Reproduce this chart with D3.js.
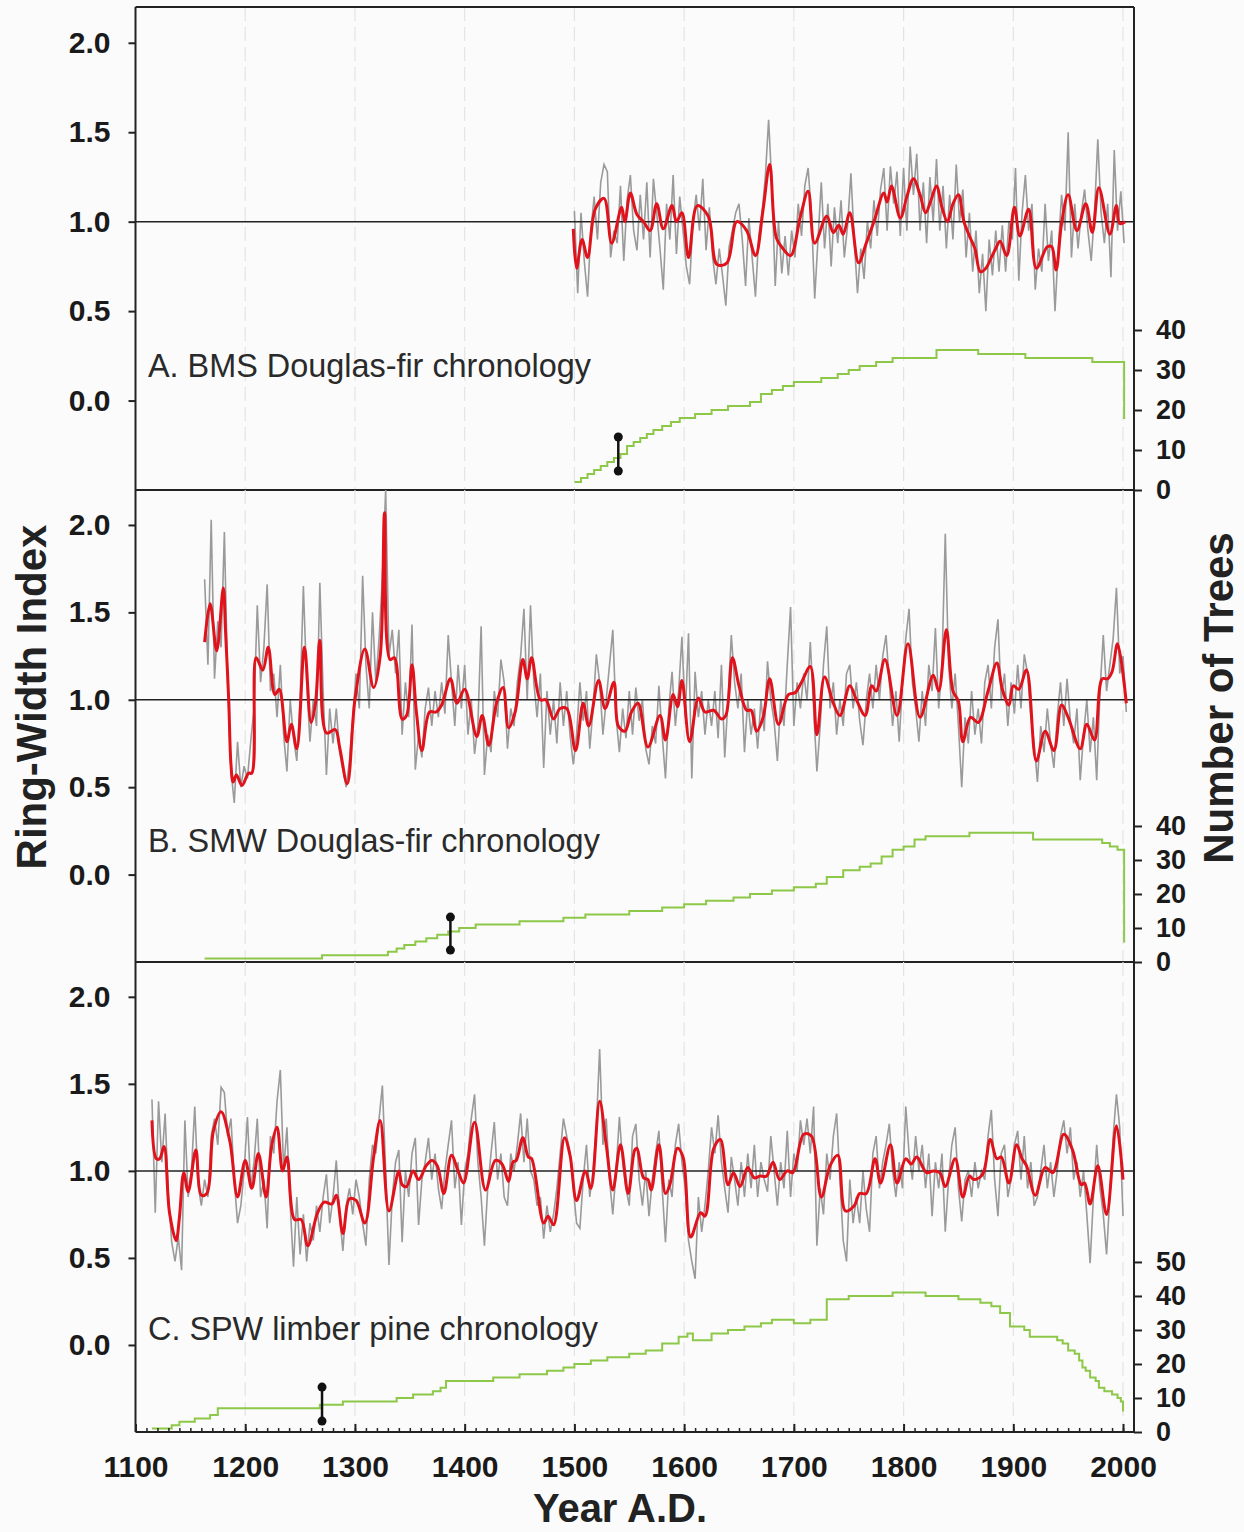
<!DOCTYPE html>
<html>
<head>
<meta charset="utf-8">
<script src="https://cdn.jsdelivr.net/npm/d3@7"></script>
<style>
  body { margin: 0; background: #fbfbfb; }
  svg { display: block; font-family: "Liberation Sans", Arial, sans-serif; }
</style>
</head>
<body>
<svg id="chart"></svg>
<script>
// ---- data ----
var yearTicks = [1100, 1200, 1300, 1400, 1500, 1600, 1700, 1800, 1900, 2000];
var ringTicks = [0, 0.5, 1.0, 1.5, 2.0];
var depthTicksAB = [0, 10, 20, 30, 40];
var depthTicksC = [0, 10, 20, 30, 40, 50];
var panelLabels = ["A. BMS Douglas-fir chronology", "B. SMW Douglas-fir chronology", "C. SPW limber pine chronology"];

var ringStep = 3;

// annual ring-width index (every 3rd year)
var bmsStart = 1500;
var bmsRing = [1.06,0.60,1.05,0.78,0.58,0.95,1.14,0.90,1.22,1.32,1.28,0.80,0.95,0.88,1.20,0.78,1.12,1.26,0.95,0.84,
  1.15,0.90,1.22,0.80,1.24,1.05,0.85,0.62,1.10,0.90,1.26,0.82,1.14,0.95,0.75,0.65,1.00,1.15,0.95,1.24,
  0.84,1.08,0.80,0.65,0.85,0.70,0.53,0.86,0.95,1.05,1.10,0.90,0.64,1.02,0.80,0.58,0.92,1.05,1.25,1.57,
  1.20,0.64,1.00,0.71,0.92,0.70,0.95,0.80,1.10,0.92,1.20,1.30,1.05,0.57,0.90,1.22,0.85,1.10,0.75,1.08,
  0.88,1.12,0.80,0.98,1.27,0.90,0.60,0.85,0.68,1.00,0.85,1.12,0.92,1.18,1.30,0.95,1.31,1.10,1.28,0.92,
  1.30,0.95,1.42,1.15,1.38,0.95,1.22,0.88,1.25,1.00,1.35,0.95,1.20,0.85,1.15,0.90,1.32,1.00,1.18,0.80,
  1.05,0.72,0.95,0.60,0.82,0.50,0.90,0.70,0.95,0.72,0.98,0.72,1.00,0.90,1.30,0.67,1.05,1.26,0.95,1.10,
  0.62,0.85,0.72,1.10,0.78,0.95,0.50,0.85,1.15,0.95,1.50,0.80,1.10,0.85,1.05,1.18,0.95,0.78,1.05,1.46,
  1.05,0.88,1.10,0.69,1.40,0.95,1.17,0.88];

var smwStart = 1163;
var smwRing = [1.69,1.20,2.03,1.12,1.45,1.30,1.96,1.10,0.60,0.41,0.76,0.50,0.62,0.55,0.76,0.95,1.54,1.10,1.30,1.66,
  1.05,1.15,0.90,1.20,0.80,0.59,1.00,0.78,0.65,1.00,1.65,1.10,0.76,1.00,0.85,1.67,1.05,0.57,0.95,0.75,
  0.95,0.70,0.60,0.50,0.65,0.90,1.15,0.95,1.71,1.20,0.95,1.50,1.10,1.35,1.70,2.20,1.25,1.40,1.15,1.40,
  0.80,1.10,0.90,1.43,0.60,0.80,0.67,0.95,1.07,0.85,1.05,0.90,1.10,0.92,1.37,1.10,0.85,1.20,0.95,1.20,
  0.80,1.00,0.69,0.85,1.42,0.57,0.80,0.70,1.05,0.90,1.23,1.10,0.72,0.95,0.85,1.10,1.25,1.52,1.00,1.54,
  1.10,0.90,1.15,0.61,1.05,0.80,1.00,0.75,1.10,0.85,1.05,0.80,0.63,0.80,1.10,0.88,1.05,0.72,0.95,1.26,
  1.10,0.80,1.00,1.20,1.40,0.90,0.70,0.95,0.78,1.05,0.80,1.07,0.88,1.00,0.72,0.63,0.85,0.75,1.08,0.80,
  0.55,0.95,1.16,0.85,1.05,1.36,0.90,1.38,0.55,1.16,0.90,1.05,0.80,1.00,0.85,1.05,0.78,1.20,0.67,1.00,
  1.37,1.10,0.95,1.15,0.70,1.00,0.80,0.95,0.72,1.00,0.82,1.22,1.00,0.88,0.65,1.00,0.85,1.20,1.53,0.85,
  1.10,0.95,1.15,1.00,1.33,0.95,0.59,0.85,1.20,1.42,0.95,1.10,0.80,1.00,0.85,1.15,1.20,0.95,1.10,0.88,
  0.74,1.00,1.15,0.95,1.20,1.00,1.25,1.37,1.10,0.85,1.05,0.76,1.10,1.35,1.52,1.10,0.95,0.76,1.05,0.85,
  1.20,1.05,1.41,0.95,1.20,1.95,1.20,0.95,1.15,0.85,0.50,0.90,0.75,1.05,0.80,0.95,0.75,1.10,1.20,0.95,
  1.30,1.46,1.00,1.15,0.85,1.10,0.92,1.20,0.95,1.26,1.15,0.90,0.75,0.53,0.85,0.70,0.95,0.75,0.61,0.90,
  1.10,0.85,1.12,0.88,0.75,0.95,0.54,0.80,1.00,0.70,0.90,0.54,1.05,1.37,1.05,1.20,1.35,1.64,1.15,1.25,
  0.93];

var spwStart = 1115;
var spwRing = [1.41,0.76,1.40,1.05,1.33,0.85,0.59,0.48,0.62,0.43,1.29,0.85,1.00,1.37,0.92,0.80,0.95,0.85,1.20,1.30,
  1.15,1.48,1.45,1.20,1.30,0.95,0.70,0.80,1.00,1.31,0.90,1.05,1.30,0.85,0.95,0.67,1.20,1.10,1.40,1.58,
  1.00,1.25,0.80,0.45,0.85,0.52,0.75,0.48,0.70,0.60,0.80,0.65,0.85,0.98,0.70,0.85,1.06,0.75,0.54,0.80,
  0.90,0.75,0.95,0.85,0.70,0.57,0.95,1.15,1.10,1.30,1.49,1.00,0.46,0.85,1.05,1.12,0.59,1.00,0.85,1.10,
  1.19,0.69,0.95,1.05,1.19,0.95,1.10,0.90,0.78,1.00,1.15,1.29,0.90,1.05,0.69,1.00,1.10,1.30,1.44,1.05,
  0.85,0.57,0.90,1.10,1.28,0.95,1.10,0.85,0.80,1.10,1.00,1.15,1.33,1.05,1.30,1.00,0.95,0.80,0.85,0.61,
  0.80,0.65,0.75,0.90,1.10,1.30,1.20,1.10,0.90,0.70,0.67,0.95,1.15,0.85,1.00,1.25,1.70,1.15,1.30,0.95,
  0.75,1.00,1.31,1.05,0.90,0.80,1.20,1.27,0.95,0.80,1.00,0.74,0.95,1.10,1.23,0.90,0.59,0.95,0.85,1.15,
  1.27,1.05,0.90,0.60,0.48,0.38,0.85,0.65,0.80,1.00,1.25,1.10,1.32,1.05,0.90,0.76,1.08,0.95,0.80,1.05,
  0.85,1.10,0.90,1.15,0.85,1.05,0.95,0.88,1.20,1.00,0.80,1.05,0.90,1.23,0.85,1.10,1.00,1.29,1.15,1.30,
  1.10,1.37,0.57,0.90,0.75,1.10,0.95,1.20,1.33,0.95,0.60,0.48,0.95,0.70,0.85,0.70,1.00,0.78,0.65,1.10,
  1.20,0.90,1.05,1.15,1.27,1.00,0.85,1.05,0.90,1.37,1.10,0.95,1.20,1.00,1.15,0.90,1.10,0.74,1.05,0.90,
  1.10,0.65,0.95,1.15,1.25,0.90,0.71,0.95,1.00,0.85,1.05,0.90,1.00,0.95,1.20,1.35,0.95,0.74,1.10,1.15,
  0.85,0.95,1.15,1.23,0.95,1.20,0.90,1.05,0.80,0.85,1.00,1.15,0.90,1.05,0.85,1.00,1.20,1.29,1.10,1.25,
  0.95,1.05,0.85,1.00,0.75,0.47,0.85,1.15,0.90,0.75,0.52,0.85,1.20,1.44,1.25,0.74];

// smoothed chronology [year, index]
var bmsSmooth = [[1499,0.96],[1502,0.74],[1507,0.90],[1512,0.80],[1519,1.07],[1527,1.13],[1534,0.88],[1543,1.08],
  [1546,1.0],[1551,1.16],[1557,1.04],[1563,1.0],[1569,0.95],[1575,1.10],[1581,0.96],[1589,1.09],[1593,1.0],
  [1598,1.05],[1604,0.80],[1612,1.09],[1622,1.03],[1630,0.76],[1639,0.77],[1648,1.0],[1657,0.95],[1665,0.81],
  [1672,1.07],[1678,1.32],[1684,0.91],[1690,0.85],[1697,0.81],[1706,1.03],[1713,1.17],[1719,0.88],[1730,1.03],
  [1736,0.94],[1741,0.98],[1745,0.93],[1751,1.05],[1759,0.77],[1766,0.88],[1773,1.0],[1782,1.16],[1785,1.11],
  [1789,1.20],[1797,1.02],[1803,1.14],[1809,1.24],[1815,1.15],[1820,1.05],[1825,1.12],[1830,1.2],[1835,1.08],
  [1840,1.0],[1845,1.1],[1850,1.15],[1855,1.0],[1860,0.92],[1865,0.85],[1870,0.72],[1875,0.74],[1880,0.8],
  [1884,0.85],[1888,0.89],[1894,0.81],[1901,1.08],[1906,0.92],[1914,1.07],[1921,0.74],[1931,0.86],[1935,0.86],
  [1939,0.73],[1944,0.99],[1950,1.15],[1958,0.95],[1966,1.10],[1972,0.94],[1978,1.19],[1988,0.93],[1994,1.09],
  [1997,0.99],[2002,1.0]];

var smwSmooth = [[1163,1.33],[1168,1.55],[1174,1.28],[1180,1.64],[1182,1.4],[1185,0.99],[1187,0.63],[1189,0.53],
  [1192,0.57],[1197,0.51],[1203,0.58],[1206,0.58],[1210,1.24],[1216,1.17],[1221,1.3],[1227,1.03],[1231,1.06],
  [1238,0.76],[1242,0.86],[1247,0.72],[1254,1.3],[1260,0.87],[1264,0.98],[1268,1.34],[1274,0.81],[1282,0.83],
  [1286,0.73],[1293,0.52],[1300,1.0],[1309,1.29],[1317,1.07],[1323,1.25],[1327,2.07],[1332,1.23],[1336,1.24],
  [1343,0.89],[1347,0.91],[1352,1.2],[1356,0.93],[1361,0.71],[1368,0.93],[1374,0.93],[1379,0.97],[1387,1.12],
  [1393,0.98],[1400,1.06],[1411,0.79],[1416,0.91],[1422,0.74],[1429,0.98],[1435,1.07],[1440,0.84],[1446,0.93],
  [1453,1.23],[1457,1.12],[1461,1.24],[1469,1.0],[1474,1.0],[1481,0.89],[1487,0.95],[1493,0.95],[1501,0.71],
  [1508,0.98],[1513,0.85],[1522,1.11],[1528,0.95],[1536,1.10],[1540,0.85],[1546,0.82],[1552,0.93],[1558,0.98],
  [1567,0.73],[1578,0.91],[1583,0.77],[1590,1.03],[1594,0.96],[1598,1.11],[1605,0.76],[1613,1.01],[1619,0.93],
  [1627,0.94],[1634,0.89],[1638,0.91],[1644,1.24],[1650,1.08],[1657,0.94],[1661,0.94],[1666,0.82],[1672,0.9],
  [1678,1.12],[1686,0.86],[1695,1.03],[1701,1.04],[1707,1.10],[1715,1.19],[1721,0.80],[1728,1.13],[1736,0.98],
  [1742,0.91],[1751,1.08],[1757,1.0],[1765,0.91],[1771,1.08],[1775,1.05],[1783,1.23],[1794,0.91],[1804,1.32],
  [1815,0.90],[1827,1.14],[1832,1.05],[1839,1.40],[1845,1.05],[1850,0.99],[1854,0.76],[1861,0.90],[1868,0.87],
  [1877,1.05],[1885,1.21],[1890,1.06],[1896,0.97],[1900,1.08],[1905,1.06],[1912,1.17],[1921,0.65],[1929,0.82],
  [1937,0.71],[1944,0.97],[1950,0.90],[1961,0.72],[1967,0.86],[1974,0.77],[1981,1.12],[1986,1.12],[1990,1.16],
  [1995,1.32],[2003,0.98]];

var spwSmooth = [[1115,1.29],[1119,1.07],[1122,1.07],[1126,1.14],[1131,0.76],[1137,0.60],[1140,0.73],[1144,0.99],
  [1148,0.88],[1155,1.12],[1160,0.86],[1165,0.87],[1171,1.23],[1178,1.34],[1186,1.17],[1193,0.85],[1200,1.06],
  [1206,0.90],[1212,1.10],[1219,0.85],[1224,1.14],[1229,1.25],[1234,1.0],[1238,1.08],[1245,0.72],[1251,0.72],
  [1257,0.57],[1266,0.76],[1272,0.82],[1279,0.81],[1283,0.86],[1289,0.64],[1295,0.84],[1301,0.83],[1309,0.70],
  [1317,1.08],[1323,1.29],[1331,0.77],[1340,1.0],[1343,0.92],[1347,0.91],[1353,1.0],[1358,0.95],[1365,1.03],
  [1370,1.06],[1375,1.03],[1381,0.87],[1388,1.09],[1394,1.0],[1399,0.93],[1409,1.28],[1419,0.89],[1428,1.06],
  [1434,1.04],[1440,0.94],[1444,1.05],[1447,1.06],[1453,1.19],[1458,1.08],[1461,1.07],[1472,0.70],[1476,0.74],
  [1481,0.69],[1491,1.19],[1496,1.09],[1502,0.83],[1510,1.0],[1515,0.90],[1523,1.40],[1529,1.15],[1535,0.89],
  [1542,1.15],[1549,0.87],[1555,1.12],[1557,1.13],[1563,0.96],[1567,0.95],[1570,0.89],[1577,1.15],[1583,0.87],
  [1587,0.92],[1594,1.13],[1599,1.08],[1606,0.62],[1615,0.76],[1619,0.74],[1627,1.13],[1633,1.18],[1640,0.92],
  [1645,0.99],[1651,0.91],[1658,1.02],[1664,0.96],[1669,0.97],[1675,0.97],[1681,1.05],[1687,0.95],[1694,1.0],
  [1699,0.99],[1709,1.21],[1716,1.20],[1725,0.85],[1733,1.03],[1740,1.09],[1747,0.77],[1755,0.80],[1760,0.87],
  [1766,0.87],[1774,1.07],[1779,0.93],[1788,1.15],[1794,0.93],[1802,1.07],[1807,1.04],[1812,1.08],[1821,0.99],
  [1827,1.0],[1833,0.99],[1838,0.91],[1847,1.07],[1854,0.85],[1860,0.97],[1864,0.95],[1872,0.98],[1879,1.18],
  [1885,1.07],[1889,1.08],[1896,0.93],[1903,1.15],[1908,1.07],[1912,1.03],[1920,0.86],[1929,1.02],[1936,0.99],
  [1946,1.21],[1954,1.12],[1962,0.92],[1965,0.93],[1970,0.81],[1977,1.03],[1985,0.75],[1994,1.26],[2000,0.95]];

// sample depth [year, number of trees]
var bmsDepth = [[1500,2],[1506,3],[1512,4],[1518,5],[1524,6],[1530,7],[1536,8],[1542,9],[1548,11],[1554,12],
  [1560,13],[1566,14],[1572,15],[1580,16],[1588,17],[1596,18],[1610,19],[1625,20],[1640,21],[1660,22],
  [1670,24],[1680,25],[1690,26],[1700,27],[1725,28],[1740,29],[1750,30],[1760,31],[1775,32],[1790,33],
  [1830,35],[1868,34],[1911,33],[1972,32],[2001,18],[2002,18]];
var smwDepth = [[1163,1],[1270,2],[1330,3],[1338,4],[1345,5],[1355,6],[1365,7],[1375,8],[1385,9],[1395,10],
  [1410,11],[1450,12],[1490,13],[1510,14],[1550,15],[1580,16],[1600,17],[1620,18],[1645,19],[1660,20],
  [1680,21],[1700,22],[1720,23],[1730,25],[1745,27],[1760,28],[1770,29],[1780,31],[1790,33],[1800,34],
  [1810,36],[1820,37],[1860,38],[1918,36],[1981,35],[1988,34],[1995,33],[2001,6],[2002,6]];
var spwDepth = [[1115,1],[1133,2],[1140,3],[1154,4],[1168,5],[1175,7],[1268,8],[1289,9],[1338,10],[1353,11],
  [1371,12],[1378,13],[1383,15],[1426,16],[1450,17],[1475,18],[1490,19],[1500,20],[1515,21],[1530,22],
  [1550,23],[1565,24],[1580,26],[1595,28],[1603,29],[1608,27],[1625,29],[1640,30],[1655,31],[1670,32],
  [1680,33],[1700,32],[1715,33],[1730,39],[1750,40],[1790,41],[1820,40],[1850,39],[1870,38],[1880,37],
  [1888,35],[1897,31],[1910,30],[1915,28],[1940,27],[1945,26],[1950,24],[1956,23],[1960,21],[1963,19],
  [1966,18],[1970,16],[1975,15],[1978,13],[1983,12],[1990,11],[1995,10],[1998,9],[2000,6]];

// vertical sample-depth markers [year, low trees, high trees]
var bmsMarker = [1540, 4.75, 13.25];
var smwMarker = [1387, 3.5, 13.2];
var spwMarker = [1270, 3.2, 13.2];

// ---- layout ----
var width = 1244, height = 1532;
var left = 135.5, right = 1134;
var panelTops = [7, 490, 962], panelBottoms = [490, 962, 1432];

var panels = [
    {ring: bmsRing, start: bmsStart, smooth: bmsSmooth, depth: bmsDepth, marker: bmsMarker,
     depthMax: 120.75, depthTicks: depthTicksAB, label: panelLabels[0], labelY: 377},
    {ring: smwRing, start: smwStart, smooth: smwSmooth, depth: smwDepth, marker: smwMarker,
     depthMax: 138.8, depthTicks: depthTicksAB, label: panelLabels[1], labelY: 852},
    {ring: spwRing, start: spwStart, smooth: spwSmooth, depth: spwDepth, marker: spwMarker,
     depthMax: 138.2, depthTicks: depthTicksC, label: panelLabels[2], labelY: 1340}
];

var chart = d3.select('#chart')
    .attr('width', width)
    .attr('height', height);

chart.append('rect')
    .attr('width', width)
    .attr('height', height)
    .attr('fill', '#fbfbfb');

var x = d3.scaleLinear().domain([1100, 2010]).range([left, right]);

panels.forEach(function(p, i) {
    var top = panelTops[i], bottom = panelBottoms[i];
    var y = d3.scaleLinear().domain([-0.5, 2.2]).range([bottom, top]);
    var y2 = d3.scaleLinear().domain([0, p.depthMax]).range([bottom, top]);
    var g = chart.append('g');

    // dashed century lines
    g.selectAll('line.grid')
        .data(yearTicks.slice(1))
        .enter()
        .append('line')
            .attr('x1', d => x(d)).attr('x2', d => x(d))
            .attr('y1', top).attr('y2', bottom)
            .attr('stroke', '#e4e4e4')
            .attr('stroke-width', 1.2)
            .attr('stroke-dasharray', '14,6');

    // annual series
    var ringPts = p.ring.map((v, k) => [p.start + k * ringStep, v]);
    g.append('path')
        .datum(ringPts)
        .attr('fill', 'none')
        .attr('stroke', '#9a9a9a')
        .attr('stroke-width', 1.6)
        .attr('d', d3.line().x(d => x(d[0])).y(d => y(d[1])));

    // mean line
    g.append('line')
        .attr('x1', left).attr('x2', right)
        .attr('y1', y(1)).attr('y2', y(1))
        .attr('stroke', '#222')
        .attr('stroke-width', 1.5);

    // smoothed
    g.append('path')
        .datum(p.smooth)
        .attr('fill', 'none')
        .attr('stroke', '#e0121b')
        .attr('stroke-width', 3)
        .attr('stroke-linejoin', 'round')
        .attr('d', d3.line().curve(d3.curveCatmullRom.alpha(0.5)).x(d => x(d[0])).y(d => y(d[1])));

    // sample depth
    g.append('path')
        .datum(p.depth)
        .attr('fill', 'none')
        .attr('stroke', '#8dc849')
        .attr('stroke-width', 2)
        .attr('d', d3.line().curve(d3.curveStepAfter).x(d => x(d[0])).y(d => y2(d[1])));

    // marker
    var m = p.marker;
    g.append('line')
        .attr('x1', x(m[0])).attr('x2', x(m[0]))
        .attr('y1', y2(m[1])).attr('y2', y2(m[2]))
        .attr('stroke', '#111')
        .attr('stroke-width', 2.5);
    g.selectAll('circle')
        .data([m[1], m[2]])
        .enter()
        .append('circle')
            .attr('cx', x(m[0]))
            .attr('cy', d => y2(d))
            .attr('r', 4.5)
            .attr('fill', '#111');

    // panel label
    g.append('text')
        .attr('x', 148)
        .attr('y', p.labelY)
        .attr('font-size', 32.4)
        .attr('fill', '#2a2a2a')
        .text(p.label);

    // left axis
    var ax = g.append('g')
        .attr('transform', 'translate(' + left + ',0)')
        .call(d3.axisLeft(y).tickValues(ringTicks).tickFormat(d3.format('.1f')).tickSize(7).tickPadding(18));
    ax.select('.domain').remove();
    ax.selectAll('line').attr('stroke', '#222').attr('stroke-width', 2);
    ax.selectAll('text').attr('font-size', 30).attr('font-weight', 'bold').attr('fill', '#1a1a1a');

    // right axis
    var ax2 = g.append('g')
        .attr('transform', 'translate(' + right + ',0)')
        .call(d3.axisRight(y2).tickValues(p.depthTicks).tickSize(8).tickPadding(14));
    ax2.select('.domain').remove();
    ax2.selectAll('line').attr('stroke', '#222').attr('stroke-width', 2);
    ax2.selectAll('text').attr('font-size', 27).attr('font-weight', 'bold').attr('fill', '#1a1a1a');

    // panel separator
    g.append('line')
        .attr('x1', left).attr('x2', right)
        .attr('y1', bottom).attr('y2', bottom)
        .attr('stroke', '#222')
        .attr('stroke-width', 2);
});

// frame
chart.append('line').attr('x1', left).attr('x2', right).attr('y1', panelTops[0]).attr('y2', panelTops[0])
    .attr('stroke', '#222').attr('stroke-width', 2);
chart.append('line').attr('x1', left).attr('x2', left).attr('y1', panelTops[0]).attr('y2', panelBottoms[2])
    .attr('stroke', '#222').attr('stroke-width', 2);
chart.append('line').attr('x1', right).attr('x2', right).attr('y1', panelTops[0]).attr('y2', panelBottoms[2])
    .attr('stroke', '#222').attr('stroke-width', 2);

// bottom year axis, ticks pointing inward
var bottomY = panelBottoms[2];
var minor = chart.append('g')
    .attr('transform', 'translate(0,' + bottomY + ')')
    .call(d3.axisBottom(x).tickValues(d3.range(1110, 2010, 10)).tickSize(-4).tickFormat(''));
minor.select('.domain').remove();
minor.selectAll('line').attr('stroke', '#222').attr('stroke-width', 1.5);

var xAxis = chart.append('g')
    .attr('transform', 'translate(0,' + bottomY + ')')
    .call(d3.axisBottom(x).tickValues(yearTicks).tickSize(-8).tickPadding(24).tickFormat(d3.format('d')));
xAxis.select('.domain').remove();
xAxis.selectAll('line').attr('stroke', '#222').attr('stroke-width', 2);
xAxis.selectAll('text').attr('font-size', 30).attr('font-weight', 'bold').attr('fill', '#1a1a1a');

// axis titles
chart.append('text')
    .attr('x', 620).attr('y', 1522)
    .attr('text-anchor', 'middle')
    .attr('font-size', 40).attr('font-weight', 'bold').attr('fill', '#222')
    .text('Year A.D.');

chart.append('text')
    .attr('transform', 'translate(46,697) rotate(-90)')
    .attr('text-anchor', 'middle')
    .attr('font-size', 42).attr('font-weight', 'bold').attr('fill', '#222')
    .text('Ring-Width Index');

chart.append('text')
    .attr('transform', 'translate(1233,698) rotate(-90)')
    .attr('text-anchor', 'middle')
    .attr('font-size', 42).attr('font-weight', 'bold').attr('fill', '#222')
    .text('Number of Trees');
</script>
</body>
</html>
